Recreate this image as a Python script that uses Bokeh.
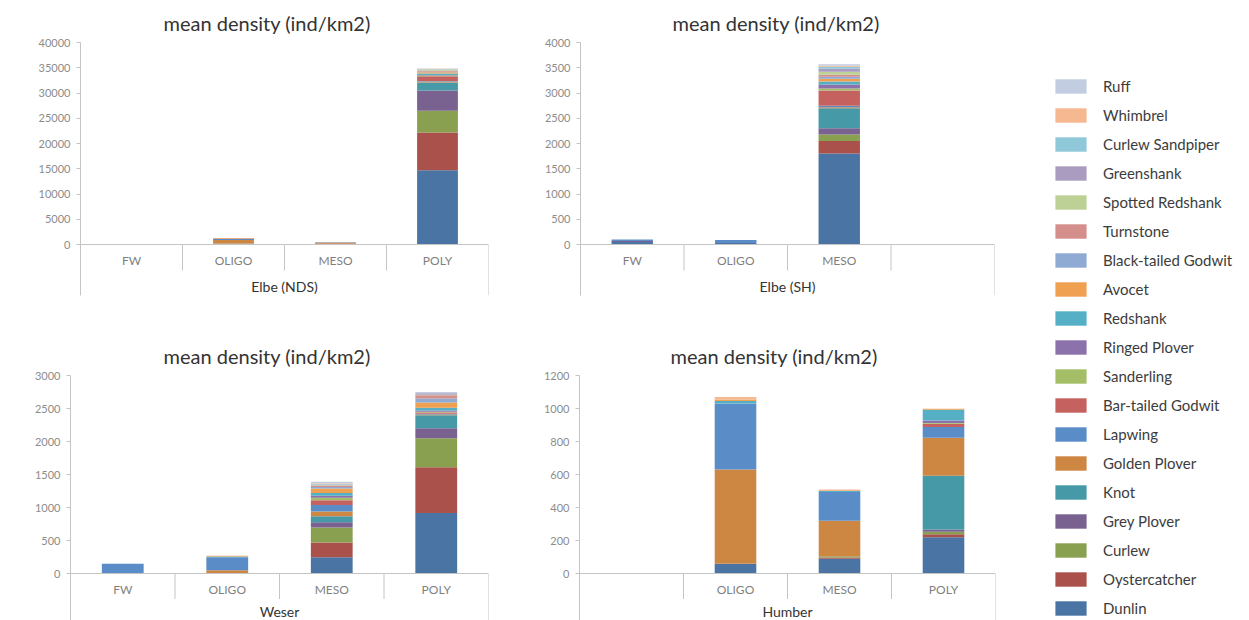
from bokeh.plotting import figure
from bokeh.models import Range1d, FactorRange, FixedTicker, ColumnDataSource, Legend, LegendItem
from bokeh.layouts import row, column
from bokeh.embed import file_html
from bokeh.resources import INLINE
from bokeh.core.properties import value

# ---------------- data ----------------
SPECIES = ["Dunlin", "Oystercatcher", "Curlew", "Grey Plover", "Knot", "Golden Plover",
           "Lapwing", "Bar-tailed Godwit", "Sanderling", "Ringed Plover", "Redshank",
           "Avocet", "Black-tailed Godwit", "Turnstone", "Spotted Redshank", "Greenshank",
           "Curlew Sandpiper", "Whimbrel", "Ruff"]
COLORS = ["#4974a4", "#a9514a", "#8aa051", "#79628f", "#4699a6", "#ce8743",
          "#5a8dc8", "#c5615e", "#a4be68", "#8c72ab", "#56b0c5",
          "#efa051", "#8faad3", "#d48f8c", "#bdd196", "#a99cc0",
          "#8fc8d8", "#f5b891", "#c3cde1"]

NDS_CATS = ["FW", "OLIGO", "MESO", "POLY"]
SH_CATS = ["FW", "OLIGO", "MESO", " "]
WESER_CATS = ["FW", "OLIGO", "MESO", "POLY"]
HUMBER_CATS = [" ", "OLIGO", "MESO", "POLY"]

# values per species, one per category of the panel
NDS_VALUES = {
    "Dunlin": [30, 50, 100, 14700], "Oystercatcher": [0, 100, 100, 7500],
    "Curlew": [0, 50, 0, 4300], "Grey Plover": [0, 0, 0, 4000], "Knot": [0, 0, 0, 1600],
    "Golden Plover": [20, 700, 150, 200], "Lapwing": [60, 200, 100, 100],
    "Bar-tailed Godwit": [0, 100, 0, 900], "Sanderling": [0, 0, 0, 150],
    "Ringed Plover": [0, 0, 0, 100], "Redshank": [0, 0, 0, 300], "Avocet": [0, 100, 50, 250],
    "Black-tailed Godwit": [0, 0, 0, 100], "Turnstone": [0, 0, 0, 200],
    "Spotted Redshank": [0, 0, 0, 250], "Greenshank": [0, 0, 0, 50],
    "Curlew Sandpiper": [0, 0, 0, 50], "Whimbrel": [0, 0, 0, 50], "Ruff": [0, 0, 0, 50],
}
SH_VALUES = {
    "Dunlin": [50, 30, 1800, 0], "Oystercatcher": [0, 0, 250, 0], "Curlew": [0, 0, 130, 0],
    "Grey Plover": [20, 0, 120, 0], "Knot": [0, 0, 400, 0], "Golden Plover": [0, 0, 20, 0],
    "Lapwing": [30, 60, 30, 0], "Bar-tailed Godwit": [0, 0, 300, 0], "Sanderling": [0, 0, 40, 0],
    "Ringed Plover": [0, 0, 80, 0], "Redshank": [0, 0, 60, 0], "Avocet": [0, 0, 50, 0],
    "Black-tailed Godwit": [0, 0, 40, 0], "Turnstone": [0, 0, 40, 0],
    "Spotted Redshank": [0, 0, 60, 0], "Greenshank": [0, 0, 60, 0],
    "Curlew Sandpiper": [0, 0, 40, 0], "Whimbrel": [0, 0, 20, 0], "Ruff": [0, 0, 30, 0],
}
WESER_VALUES = {
    "Dunlin": [10, 10, 250, 920], "Oystercatcher": [0, 0, 220, 690], "Curlew": [0, 0, 230, 440],
    "Grey Plover": [0, 0, 80, 150], "Knot": [0, 0, 90, 200], "Golden Plover": [0, 40, 70, 10],
    "Lapwing": [140, 200, 100, 10], "Bar-tailed Godwit": [0, 0, 70, 20],
    "Sanderling": [0, 0, 40, 10], "Ringed Plover": [0, 0, 30, 20], "Redshank": [0, 10, 40, 40],
    "Avocet": [0, 10, 70, 80], "Black-tailed Godwit": [0, 0, 20, 60], "Turnstone": [0, 0, 20, 50],
    "Spotted Redshank": [0, 0, 10, 10], "Greenshank": [0, 0, 10, 20],
    "Curlew Sandpiper": [0, 0, 10, 0], "Whimbrel": [0, 0, 10, 0], "Ruff": [0, 0, 20, 20],
}
HUMBER_VALUES = {
    "Dunlin": [0, 60, 90, 220], "Oystercatcher": [0, 0, 8, 18], "Curlew": [0, 0, 7, 15],
    "Grey Plover": [0, 0, 0, 15], "Knot": [0, 0, 0, 325], "Golden Plover": [0, 570, 215, 230],
    "Lapwing": [0, 400, 175, 65], "Bar-tailed Godwit": [0, 0, 0, 20], "Sanderling": [0, 0, 0, 5],
    "Ringed Plover": [0, 0, 0, 15], "Redshank": [0, 15, 5, 65], "Avocet": [0, 10, 0, 5],
    "Black-tailed Godwit": [0, 0, 0, 0], "Turnstone": [0, 0, 0, 0],
    "Spotted Redshank": [0, 0, 0, 0], "Greenshank": [0, 0, 0, 0],
    "Curlew Sandpiper": [0, 0, 0, 0], "Whimbrel": [0, 15, 10, 0], "Ruff": [0, 0, 0, 0],
}

NDS_TICKS = [0, 5000, 10000, 15000, 20000, 25000, 30000, 35000, 40000]
SH_TICKS = [0, 500, 1000, 1500, 2000, 2500, 3000, 3500, 4000]
WESER_TICKS = [0, 500, 1000, 1500, 2000, 2500, 3000]
HUMBER_TICKS = [0, 200, 400, 600, 800, 1000, 1200]

TITLE = "mean density (ind/km2)"
FONT = "Lato"
AXIS_GREY = "#c4c4c4"


def panel(cats, values, ticks, group, width, height, left, right, top, bottom,
          zero_px, title_offset, group_px):
    """zero_px: distance in px from frame bottom up to the 0 line."""
    ymax = ticks[-1]
    frame_h = height - top - bottom
    plot_px = frame_h - zero_px
    dpp = ymax / plot_px  # data units per pixel
    p = figure(width=width, height=height, x_range=FactorRange(factors=cats),
               y_range=Range1d(-zero_px * dpp, ymax), toolbar_location=None,
               output_backend="svg", min_border_left=left, min_border_right=right,
               min_border_top=top, min_border_bottom=bottom)
    p.outline_line_color = None
    p.grid.visible = False
    p.background_fill_color = "white"
    p.border_fill_color = "white"

    p.title.text = TITLE
    p.title.align = "left"
    p.title.offset = title_offset
    p.title.standoff = 16
    p.title.text_font = FONT
    p.title.text_font_size = "20px"
    p.title.text_font_style = "normal"
    p.title.text_color = "#333333"

    src = ColumnDataSource(dict(cat=cats, **{s: values[s] for s in SPECIES}))
    p.vbar_stack(SPECIES, x="cat", width=0.4, source=src,
                 fill_color=COLORS, line_color=None)

    # y axis
    ya = p.yaxis[0]
    ya.ticker = FixedTicker(ticks=ticks)
    ya.axis_line_color = AXIS_GREY
    ya.major_tick_line_color = AXIS_GREY
    ya.major_tick_out = 4
    ya.major_tick_in = 0
    ya.minor_tick_line_color = None
    ya.major_label_standoff = 6
    ya.major_label_text_font = FONT
    ya.major_label_text_font_size = "11px"
    ya.major_label_text_color = "#8c8c8c"

    # category axis on the zero line
    xa = p.xaxis[0]
    xa.fixed_location = 0
    xa.axis_line_color = AXIS_GREY
    xa.major_tick_line_color = None
    xa.major_tick_in = 0
    xa.major_tick_out = 0
    xa.major_label_standoff = 8
    xa.major_label_text_font = FONT
    xa.major_label_text_font_size = "12px"
    xa.major_label_text_color = "#7f7f7f"

    # category separators below the axis
    xs = [(c, 0.5) for c in cats]
    ends = [-26 * dpp] * (len(cats) - 1) + [-zero_px * dpp]
    p.segment(x0=xs, y0=[0] * len(cats), x1=xs, y1=ends,
              line_color=AXIS_GREY, line_width=1)

    # group label
    p.text(x=[(cats[2], -0.5)], y=[-group_px * dpp], text=[group], text_align="center",
           text_baseline="middle", text_font=value(FONT), text_font_size="14px",
           text_color="#333333")
    return p


p1 = panel(NDS_CATS, NDS_VALUES, NDS_TICKS, "Elbe (NDS)", 500, 333, 80, 12, 42, 38, 51, 83, 42)
p2 = panel(SH_CATS, SH_VALUES, SH_TICKS, "Elbe (SH)", 518, 333, 80, 24, 42, 38, 51, 92, 42)
p3 = panel(WESER_CATS, WESER_VALUES, WESER_TICKS, "Weser", 500, 287, 70, 12, 36, 0, 48, 93, 39)
p4 = panel(HUMBER_CATS, HUMBER_VALUES, HUMBER_TICKS, "Humber", 518, 287, 79, 23, 36, 0, 48, 91, 39)

# legend figure
lf = figure(width=231, height=620, x_range=Range1d(0, 1), y_range=Range1d(0, 1),
            toolbar_location=None, output_backend="svg", x_axis_location=None,
            y_axis_location=None, min_border=0)
lf.outline_line_color = None
lf.grid.visible = False
items = []
for sp, col in reversed(list(zip(SPECIES, COLORS))):
    r = lf.vbar(x=[5], top=[1], width=0.5, fill_color=col, line_color=None)
    items.append(LegendItem(label=sp, renderers=[r]))
legend = Legend(items=items, location=(33, 3), orientation="vertical",
                glyph_width=39, glyph_height=18, label_height=18, spacing=11,
                padding=0, margin=0, border_line_color=None, background_fill_alpha=0,
                label_text_font=FONT, label_text_font_size="15px",
                label_text_color="#3c3c3c", label_standoff=13)
lf.add_layout(legend)

layout = row(column(row(p1, p2), row(p3, p4)), lf)
open("out.html", "w").write(file_html(layout, INLINE))
